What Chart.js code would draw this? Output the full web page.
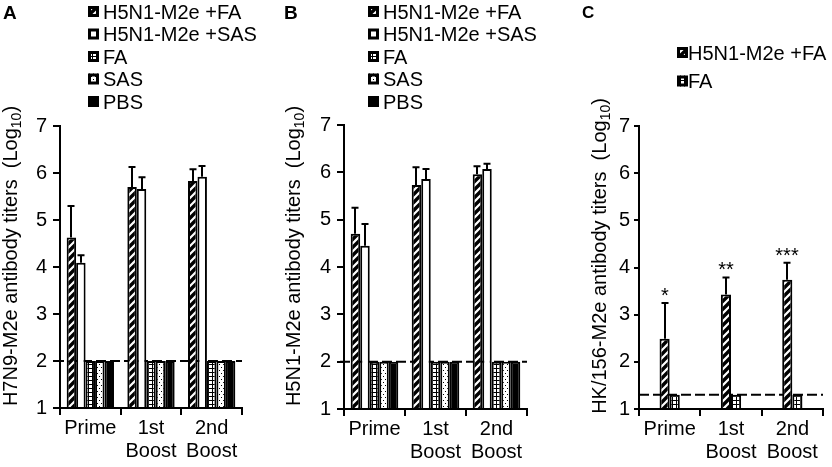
<!DOCTYPE html>
<html>
<head>
  <title>M2e antibody titers</title>
  <style>
    body { margin: 0; background: #fff; }
    .panel { position: absolute; top: 0; }
    canvas { display: block; }
  </style>
  <script src="https://cdn.jsdelivr.net/npm/chart.js"></script>
</head>
<body>
  <div class="panel" style="left:0px"><canvas id="chartA" width="280" height="467"></canvas></div>
  <div class="panel" style="left:280px"><canvas id="chartB" width="280" height="467"></canvas></div>
  <div class="panel" style="left:560px"><canvas id="chartC" width="272" height="467"></canvas></div>

  <script>
    const categories = [['Prime'], ['1st', 'Boost'], ['2nd', 'Boost']];
    const yMin = 1, yMax = 7;

    // Panel A: H7N9-M2e titers
    const aVaxFA = [4.63, 5.70, 5.83];
    const aVaxFAErr = [0.67, 0.43, 0.25];
    const aVaxSAS = [4.09, 5.66, 5.92];
    const aVaxSASErr = [0.16, 0.25, 0.23];
    const aFA = [2, 2, 2];
    const aSAS = [2, 2, 2];
    const aPBS = [2, 2, 2];
    const aCutoff = 2;

    // Panel B: H5N1-M2e titers
    const bVaxFA = [4.70, 5.73, 5.96];
    const bVaxFAErr = [0.55, 0.38, 0.17];
    const bVaxSAS = [4.45, 5.86, 6.07];
    const bVaxSASErr = [0.46, 0.21, 0.11];
    const bFA = [2, 2, 2];
    const bSAS = [2, 2, 2];
    const bPBS = [2, 2, 2];
    const bCutoff = 2;

    // Panel C: HK/156-M2e titers
    const cVaxFA = [2.49, 3.43, 3.74];
    const cVaxFAErr = [0.76, 0.36, 0.36];
    const cFA = [1.3, 1.3, 1.3];
    const cCutoff = 1.3;
    const cStars = ['*', '**', '***'];

    const FONT = "'Liberation Sans', Arial, sans-serif";
    const FS = 20;
    Chart.defaults.font.family = FONT;
    Chart.defaults.font.size = FS;
    Chart.defaults.color = '#000';

    // --- fill patterns ---
    function tile(w, h, draw) {
      const c = document.createElement('canvas');
      c.width = w; c.height = h;
      const g = c.getContext('2d');
      g.fillStyle = '#fff';
      g.fillRect(0, 0, w, h);
      g.fillStyle = '#000';
      g.strokeStyle = '#000';
      draw(g);
      return c.getContext('2d').createPattern(c, 'repeat');
    }
    const hatch = tile(8, 8, g => {
      g.lineWidth = 3.4;
      g.beginPath();
      g.moveTo(-2, 10); g.lineTo(10, -2);
      g.moveTo(-2, 2); g.lineTo(2, -2);
      g.moveTo(6, 10); g.lineTo(10, 6);
      g.stroke();
    });
    const grid = tile(4, 4, g => {
      g.fillRect(0, 0, 4, 1);
      g.fillRect(0, 0, 1, 4);
    });
    const dots = tile(4, 6, g => {
      g.fillRect(1, 1, 1, 1);
      g.fillRect(3, 4, 1, 1);
    });

    function bars(label, data, fill, errors) {
      return {
        label: label,
        data: data,
        errors: errors,
        base: yMin,
        backgroundColor: fill,
        borderColor: '#000',
        borderWidth: 2,
        borderSkipped: 'start',
      };
    }

    // cutoff line, error bars, stars, axis title, legend, panel letter
    const panelDecor = {
      id: 'panelDecor',
      beforeDatasetsDraw(chart, args, o) {
        const { ctx, chartArea } = chart;
        const y = chart.scales.y.getPixelForValue(o.cutoff);
        ctx.save();
        ctx.strokeStyle = '#000';
        ctx.lineWidth = 2;
        ctx.setLineDash([10, 4]);
        ctx.beginPath();
        ctx.moveTo(chartArea.left - o.dashLead, y);
        ctx.lineTo(chartArea.right, y);
        ctx.stroke();
        ctx.restore();
      },
      afterDatasetsDraw(chart, args, o) {
        const { ctx } = chart;
        const ys = chart.scales.y;
        ctx.save();
        ctx.strokeStyle = '#000';
        ctx.fillStyle = '#000';
        ctx.lineWidth = 2;
        chart.data.datasets.forEach((ds, i) => {
          if (!ds.errors) return;
          chart.getDatasetMeta(i).data.forEach((bar, j) => {
            const x = Math.round(bar.x);
            const top = ys.getPixelForValue(ds.data[j] + ds.errors[j]);
            ctx.beginPath();
            ctx.moveTo(x, bar.y);
            ctx.lineTo(x, top);
            ctx.moveTo(x - 3.5, top);
            ctx.lineTo(x + 3.5, top);
            ctx.stroke();
            if (o.stars) {
              ctx.font = FS + 'px ' + FONT;
              ctx.textAlign = 'center';
              ctx.textBaseline = 'alphabetic';
              ctx.fillText(o.stars[j], x, top - 1);
            }
          });
        });
        ctx.restore();
      },
      afterDraw(chart, args, o) {
        const { ctx } = chart;
        ctx.save();
        ctx.fillStyle = '#000';
        ctx.textAlign = 'left';
        ctx.textBaseline = 'alphabetic';

        // panel letter
        ctx.font = 'bold ' + o.letterSize + 'px ' + FONT;
        ctx.fillText(o.letter, o.letterX, o.letterY);

        // legend
        ctx.font = FS + 'px ' + FONT;
        chart.data.datasets.forEach((ds, i) => {
          const cy = o.legendY + i * o.legendGap;
          ctx.fillStyle = ds.backgroundColor;
          ctx.fillRect(o.legendX, cy - 5.5, 11, 11);
          ctx.strokeStyle = '#000';
          ctx.lineWidth = 3;
          ctx.strokeRect(o.legendX + 1.5, cy - 4, 8, 8);
          ctx.fillStyle = '#000';
          ctx.fillText(ds.label, o.legendX + o.legendTextGap, cy + 7.2);
        });

        // y axis title with subscript
        ctx.translate(o.titleX, o.titleY);
        ctx.rotate(-Math.PI / 2);
        const big = FS + 'px ' + FONT, small = '14px ' + FONT;
        const tail = ')';
        ctx.font = big;
        const w1 = ctx.measureText(o.title).width;
        const w3 = ctx.measureText(tail).width;
        ctx.font = small;
        const w2 = ctx.measureText('10').width;
        let sx = -(w1 + w2 + w3) / 2;
        ctx.font = big; ctx.fillText(o.title, sx, 7); sx += w1;
        ctx.font = small; ctx.fillText('10', sx, 11); sx += w2;
        ctx.font = big; ctx.fillText(tail, sx, 7);
        ctx.restore();
      }
    };

    function makeChart(id, datasets, cfg) {
      new Chart(document.getElementById(id).getContext('2d'), {
        type: 'bar',
        data: { labels: categories, datasets: datasets },
        plugins: [panelDecor],
        options: {
          responsive: false,
          animation: false,
          layout: { padding: { left: 0, right: cfg.padRight, top: cfg.padTop, bottom: 0 } },
          datasets: { bar: { categoryPercentage: cfg.catPct, barPercentage: 1 } },
          scales: {
            x: {
              grid: { display: true, drawOnChartArea: false, drawTicks: true, tickLength: 7, color: '#000', lineWidth: 2 },
              border: { display: true, color: '#000', width: 2 },
              ticks: { autoSkip: false, maxRotation: 0, padding: 2, font: { size: FS, lineHeight: 1.15 } },
              afterFit: s => { s.height = cfg.xHeight; },
            },
            y: {
              min: yMin,
              max: yMax,
              grid: { display: true, drawOnChartArea: false, drawTicks: true, tickLength: cfg.yTick, color: '#000', lineWidth: 2 },
              border: { display: true, color: '#000', width: 2 },
              ticks: { stepSize: 1, padding: cfg.yPad, font: { size: FS } },
              afterFit: s => { s.width = cfg.yWidth; },
            },
          },
          plugins: {
            legend: { display: false },
            tooltip: { enabled: false },
            panelDecor: cfg.decor,
          },
        },
      });
    }

    makeChart('chartA', [
      bars('H5N1-M2e +FA', aVaxFA, hatch, aVaxFAErr),
      bars('H5N1-M2e +SAS', aVaxSAS, '#fff', aVaxSASErr),
      bars('FA', aFA, grid),
      bars('SAS', aSAS, dots),
      bars('PBS', aPBS, '#000'),
    ], {
      padRight: 38, padTop: 126, xHeight: 59, yWidth: 60, yTick: 7, yPad: 6, catPct: 0.78,
      decor: {
        cutoff: aCutoff, dashLead: 6,
        letter: 'A', letterSize: 19, letterX: 3, letterY: 18.5,
        legendX: 88, legendY: 11.5, legendGap: 22.5, legendTextGap: 15,
        title: 'H7N9-M2e antibody titers  (Log', titleX: 10, titleY: 256,
      },
    });

    makeChart('chartB', [
      bars('H5N1-M2e +FA', bVaxFA, hatch, bVaxFAErr),
      bars('H5N1-M2e +SAS', bVaxSAS, '#fff', bVaxSASErr),
      bars('FA', bFA, grid),
      bars('SAS', bSAS, dots),
      bars('PBS', bPBS, '#000'),
    ], {
      padRight: 33, padTop: 125, xHeight: 58, yWidth: 64, yTick: 7, yPad: 6, catPct: 0.78,
      decor: {
        cutoff: bCutoff, dashLead: 4,
        letter: 'B', letterSize: 19, letterX: 4, letterY: 18.5,
        legendX: 88, legendY: 11.5, legendGap: 22.5, legendTextGap: 15,
        title: 'H5N1-M2e antibody titers  (Log', titleX: 13, titleY: 256,
      },
    });

    makeChart('chartC', [
      bars('H5N1-M2e +FA', cVaxFA, hatch, cVaxFAErr),
      bars('FA', cFA, grid),
    ], {
      padRight: 9, padTop: 126, xHeight: 58, yWidth: 79, yTick: 5, yPad: 4, catPct: 0.33,
      decor: {
        cutoff: cCutoff, dashLead: 0, stars: cStars,
        letter: 'C', letterSize: 17, letterX: 22, letterY: 18,
        legendX: 117, legendY: 52.5, legendGap: 28.5, legendTextGap: 11,
        title: 'HK/156-M2e antibody titers  (Log', titleX: 39, titleY: 256,
      },
    });
  </script>
</body>
</html>
